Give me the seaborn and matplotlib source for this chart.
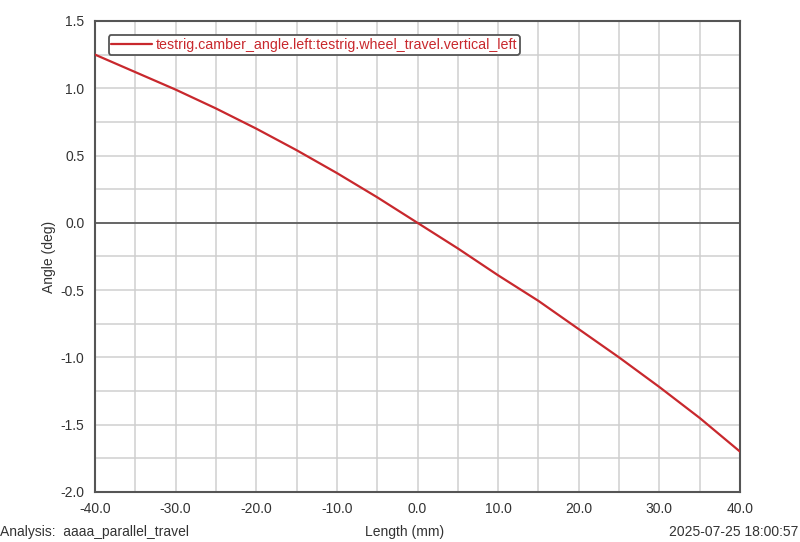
import numpy as np
import pandas as pd
import matplotlib.pyplot as plt
from matplotlib.ticker import MultipleLocator, FormatStrFormatter
import seaborn as sns

# wheel travel (mm) vs camber angle (deg)
travel = [-40, -35, -30, -25, -20, -15, -10, -5, 0, 5, 10, 15, 20, 25, 30, 35, 40]
camber = [1.25, 1.12, 0.99, 0.85, 0.70, 0.54, 0.37, 0.19, 0.0,
          -0.19, -0.39, -0.58, -0.79, -1.00, -1.22, -1.45, -1.70]
series_name = "testrig.camber_angle.left:testrig.wheel_travel.vertical_left"

df = pd.DataFrame({"travel": travel, "camber": camber})

sns.set_style("white")
plt.rcParams["font.family"] = ["Liberation Sans", "DejaVu Sans"]

RED = "#c8282d"
AXCOL = "#555555"
GRID = "#cfcfcf"
TXT = "#333333"

fig = plt.figure(figsize=(8, 5.42), dpi=100)
ax = fig.add_axes([0.11875, 0.0923, 0.80625, 0.869])

sns.lineplot(data=df, x="travel", y="camber", ax=ax, color=RED,
             linewidth=1.6, label=series_name, zorder=3)

ax.set_xlim(-40, 40)
ax.set_ylim(-2.0, 1.5)
ax.xaxis.set_major_locator(MultipleLocator(10))
ax.xaxis.set_minor_locator(MultipleLocator(5))
ax.yaxis.set_major_locator(MultipleLocator(0.5))
ax.yaxis.set_minor_locator(MultipleLocator(0.25))
ax.xaxis.set_major_formatter(FormatStrFormatter("%.1f"))
ax.yaxis.set_major_formatter(FormatStrFormatter("%.1f"))

ax.grid(True, which="both", color=GRID, linewidth=1.1, zorder=0)
ax.axhline(0, color="#666666", linewidth=1.4, zorder=2)

for s in ax.spines.values():
    s.set_edgecolor(AXCOL)
    s.set_linewidth(1.5)
ax.tick_params(which="both", direction="out", colors=AXCOL, labelcolor=TXT,
               labelsize=10)
ax.tick_params(which="major", length=4, width=1.2)
ax.tick_params(which="minor", length=3, width=1.0)

ax.set_xlabel("")
ax.set_ylabel("Angle (deg)", fontsize=10, color=TXT)
ax.yaxis.set_label_coords(-0.06, 0.5)

leg = ax.legend(loc="upper left", bbox_to_anchor=(0.01, 0.985), fontsize=10.3,
                frameon=True, fancybox=True, handlelength=2.8,
                borderpad=0.2, handletextpad=0.3, labelcolor=RED)
leg.get_frame().set_edgecolor("#555555")
leg.get_frame().set_linewidth(1.3)
leg.get_frame().set_facecolor("white")
leg.get_frame().set_alpha(1)

fig.text(0.0, 0.0185, "Analysis:  aaaa_parallel_travel", fontsize=10,
         color=TXT, ha="left", va="center")
fig.text(0.506, 0.0185, "Length (mm)", fontsize=10, color=TXT,
         ha="center", va="center")
fig.text(0.998, 0.0185, "2025-07-25 18:00:57", fontsize=10, color=TXT,
         ha="right", va="center")

fig.savefig("out.png", dpi=100)
